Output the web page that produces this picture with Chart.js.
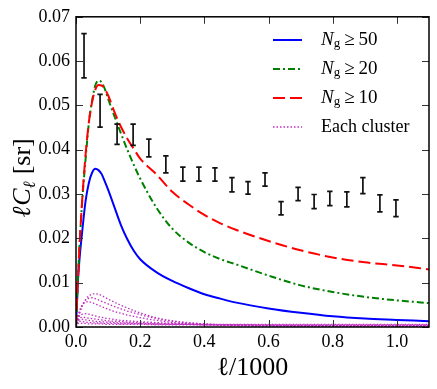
<!DOCTYPE html>
<html><head><meta charset="utf-8">
<script src="https://cdn.jsdelivr.net/npm/chart.js@4/dist/chart.umd.min.js"></script>
<style>html,body{margin:0;padding:0;background:#fff}#wrap{width:437px;height:389px;position:relative}
#probe{position:absolute;left:-1000px;top:0;font-family:'Liberation Serif';}</style>
</head><body><div id="probe">0.07 ℓ/1000 <i>N</i> Each cluster</div><div id="wrap"><canvas id="c" width="437" height="389"></canvas></div>
<script>
// multipole grid (ℓ/1000)
const ell = [0, 0.005, 0.01, 0.02, 0.03, 0.04, 0.05, 0.06, 0.07, 0.08, 0.09, 0.1, 0.12, 0.14, 0.16, 0.18, 0.2, 0.25, 0.3, 0.35, 0.4, 0.45, 0.5, 0.6, 0.7, 0.8, 0.9, 1.0, 1.1];
const ng50 = [0, 0.009, 0.0145, 0.022, 0.0285, 0.0325, 0.0348, 0.0357, 0.0354, 0.0345, 0.0328, 0.031, 0.027, 0.023, 0.0198, 0.0172, 0.0153, 0.0124, 0.0104, 0.0088, 0.0074, 0.0064, 0.0055, 0.0042, 0.0032, 0.0024, 0.0019, 0.0016, 0.0013];
const ng20 = [0, 0.009, 0.017, 0.029, 0.038, 0.046, 0.051, 0.0545, 0.0556, 0.0552, 0.0537, 0.0515, 0.0475, 0.0437, 0.0400, 0.0366, 0.0335, 0.0270, 0.0222, 0.0191, 0.0169, 0.0153, 0.0141, 0.0116, 0.0094, 0.0079, 0.0068, 0.006, 0.0054];
const ng10 = [0, 0.009, 0.017, 0.0295, 0.039, 0.0462, 0.0507, 0.0535, 0.0546, 0.0545, 0.0537, 0.0523, 0.0485, 0.0452, 0.0425, 0.0402, 0.0380, 0.0345, 0.0305, 0.0277, 0.0253, 0.0234, 0.0219, 0.0194, 0.0173, 0.0157, 0.0146, 0.0139, 0.013];
const cluster1 = [0, 0.0015, 0.0028, 0.0048, 0.0062, 0.0070, 0.0074, 0.0075, 0.0074, 0.0071, 0.0067, 0.0063, 0.0056, 0.0049, 0.0043, 0.0037, 0.0032, 0.0021, 0.0014, 0.0010, 0.0007, 0.0005, 0.0004, 0.0003, 0.0002, 0.0002, 0.0001, 0.0001, 0.0001];
const cluster2 = [0, 0.0016, 0.0030, 0.0050, 0.0061, 0.0065, 0.0066, 0.0064, 0.0061, 0.0058, 0.0055, 0.0052, 0.0046, 0.0041, 0.0036, 0.0032, 0.0028, 0.0019, 0.0013, 0.0009, 0.0007, 0.0005, 0.0004, 0.0003, 0.0002, 0.0002, 0.0001, 0.0001, 0.0001];
const cluster3 = [0, 0.0020, 0.0035, 0.0050, 0.0056, 0.0057, 0.0055, 0.0052, 0.0049, 0.0046, 0.0043, 0.0040, 0.0035, 0.0031, 0.0027, 0.0024, 0.0021, 0.0015, 0.0010, 0.0007, 0.0005, 0.0004, 0.0003, 0.0002, 0.0002, 0.0001, 0.0001, 0.0001, 0.0001];
const cluster4 = [0, 0.0015, 0.0024, 0.0029, 0.0030, 0.0029, 0.0027, 0.0025, 0.0023, 0.0022, 0.0020, 0.0019, 0.0017, 0.0015, 0.0014, 0.0013, 0.0012, 0.0010, 0.0008, 0.0007, 0.0006, 0.0005, 0.0004, 0.0003, 0.0003, 0.0002, 0.0002, 0.0002, 0.0002];
const cluster5 = [0, 0.0013, 0.0019, 0.0022, 0.0021, 0.0020, 0.0019, 0.0018, 0.0017, 0.0016, 0.0015, 0.0014, 0.0013, 0.0012, 0.0011, 0.0010, 0.0010, 0.0008, 0.0007, 0.0006, 0.0005, 0.0005, 0.0004, 0.0004, 0.0003, 0.0003, 0.0003, 0.0003, 0.0003];
const cluster6 = [0, 0.0012, 0.0016, 0.0017, 0.0016, 0.0015, 0.0014, 0.0013, 0.0012, 0.0012, 0.0011, 0.0011, 0.0010, 0.0009, 0.0009, 0.0008, 0.0008, 0.0007, 0.0006, 0.0006, 0.0005, 0.0005, 0.0005, 0.0004, 0.0004, 0.0004, 0.0004, 0.0004, 0.0004];
const cluster7 = [0, 0.0010, 0.0013, 0.0012, 0.0011, 0.0010, 0.0010, 0.0009, 0.0009, 0.0009, 0.0008, 0.0008, 0.0008, 0.0007, 0.0007, 0.0007, 0.0007, 0.0006, 0.0006, 0.0006, 0.0006, 0.0006, 0.0006, 0.0006, 0.0006, 0.0006, 0.0006, 0.0006, 0.0006];
const cluster8 = [0, 0.0007, 0.0009, 0.0008, 0.0008, 0.0007, 0.0007, 0.0007, 0.0007, 0.0007, 0.0006, 0.0006, 0.0006, 0.0006, 0.0006, 0.0006, 0.0006, 0.0005, 0.0005, 0.0005, 0.0005, 0.0005, 0.0005, 0.0005, 0.0005, 0.0005, 0.0005, 0.0005, 0.0005];
// measured points with errors
const errEll = [0.025, 0.075, 0.128, 0.178, 0.227, 0.280, 0.333, 0.383, 0.433, 0.486, 0.536, 0.589, 0.639, 0.692, 0.742, 0.791, 0.844, 0.894, 0.947, 0.997];
const errVal = [0.0612, 0.0488, 0.0435, 0.0434, 0.0404, 0.0367, 0.0345, 0.0345, 0.0344, 0.0321, 0.0314, 0.0333, 0.0268, 0.0300, 0.0283, 0.0290, 0.0288, 0.0319, 0.0279, 0.0268];
const errSig = [0.0050, 0.0037, 0.0023, 0.0024, 0.0020, 0.0019, 0.0016, 0.0016, 0.0015, 0.0016, 0.0014, 0.0015, 0.0015, 0.0015, 0.0016, 0.0016, 0.0017, 0.0018, 0.0019, 0.0019];
const xTicks = [0, 0.2, 0.4, 0.6, 0.8, 1.0];
const yTicks = [0, 0.01, 0.02, 0.03, 0.04, 0.05, 0.06, 0.07];
const seriesLabels = ['N_g ≥ 50', 'N_g ≥ 20', 'N_g ≥ 10', 'Each cluster'];

const SERIF = "'Liberation Serif', 'Times New Roman', 'DejaVu Serif', serif";
Chart.defaults.font.family = SERIF;
Chart.defaults.color = '#000';

const mk = arr => ell.map((v, i) => ({x: v, y: arr[i]}));
const clusters = [cluster1, cluster2, cluster3, cluster4, cluster5, cluster6, cluster7, cluster8];
const magenta = '#c030c0';

function drawRich(ctx, segs, x, y) {
  let cx = x;
  segs.forEach(s => { ctx.font = s.font; ctx.fillText(s.t, cx, y + (s.dy || 0)); cx += ctx.measureText(s.t).width + (s.sp || 0); });
  return cx;
}
function richWidth(ctx, segs) {
  let w = 0;
  segs.forEach(s => { ctx.font = s.font; w += ctx.measureText(s.t).width + (s.sp || 0); });
  return w;
}
function labelSegs(lbl) {
  const m = lbl.match(/^N_g ≥ (.*)$/);
  if (!m) return [{t: lbl, font: `18px ${SERIF}`}];
  return [
    {t: 'N', font: `italic 19px ${SERIF}`},
    {t: 'g', font: `13px ${SERIF}`, dy: 4, sp: 4},
    {t: '≥', font: `19px ${SERIF}`, sp: 4},
    {t: m[1], font: `19px ${SERIF}`}
  ];
}

const decor = {
  id: 'decor',
  afterDatasetsDraw(chart) {
    const {ctx, chartArea: a, scales: {x, y}} = chart;
    ctx.save();
    // error bars
    ctx.strokeStyle = '#111'; ctx.lineWidth = 1.7;
    errEll.forEach((e, i) => {
      const px = x.getPixelForValue(e);
      const p1 = y.getPixelForValue(errVal[i] - errSig[i]);
      const p2 = y.getPixelForValue(errVal[i] + errSig[i]);
      ctx.beginPath();
      ctx.moveTo(px, p1); ctx.lineTo(px, p2);
      ctx.moveTo(px - 2.7, p1); ctx.lineTo(px + 2.7, p1);
      ctx.moveTo(px - 2.7, p2); ctx.lineTo(px + 2.7, p2);
      ctx.stroke();
    });
    // inward ticks
    ctx.strokeStyle = '#333'; ctx.lineWidth = 1;
    xTicks.forEach(v => {
      const px = Math.round(x.getPixelForValue(v)) + 0.5;
      ctx.beginPath(); ctx.moveTo(px, a.bottom); ctx.lineTo(px, a.bottom - 7);
      ctx.moveTo(px, a.top); ctx.lineTo(px, a.top + 7); ctx.stroke();
    });
    yTicks.forEach(v => {
      const py = Math.round(y.getPixelForValue(v)) + 0.5;
      ctx.beginPath(); ctx.moveTo(a.left, py); ctx.lineTo(a.left + 7, py);
      ctx.moveTo(a.right, py); ctx.lineTo(a.right - 7, py); ctx.stroke();
    });
    // frame
    ctx.strokeStyle = '#000'; ctx.lineWidth = 1.5;
    ctx.strokeRect(a.left, a.top, a.right - a.left, a.bottom - a.top);
    // legend
    const ds = chart.data.datasets;
    const rows = [40, 69, 98, 127];
    ctx.textBaseline = 'middle'; ctx.textAlign = 'left'; ctx.fillStyle = '#000';
    for (let i = 0; i < 4; i++) {
      const d = ds[i];
      ctx.save();
      ctx.strokeStyle = d.borderColor; ctx.lineWidth = d.borderWidth;
      ctx.setLineDash(d.borderDash || []);
      ctx.beginPath(); ctx.moveTo(273, rows[i]); ctx.lineTo(302, rows[i]); ctx.stroke();
      ctx.restore();
      drawRich(ctx, labelSegs(seriesLabels[i]), 321, rows[i]);
    }
    // y title
    const ySegs = [
      {t: 'ℓ', font: `italic 26px ${SERIF}`, sp: 1},
      {t: 'C', font: `italic 26px ${SERIF}`},
      {t: 'ℓ', font: `italic 17px ${SERIF}`, dy: 5, sp: 7},
      {t: '[sr]', font: `26px ${SERIF}`}
    ];
    ctx.save();
    ctx.translate(30, (a.top + a.bottom) / 2 + 6);
    ctx.rotate(-Math.PI / 2);
    ctx.textBaseline = 'alphabetic';
    const w = richWidth(ctx, ySegs);
    drawRich(ctx, ySegs, -w / 2, 0);
    ctx.restore();
    ctx.restore();
  }
};

function build() {
new Chart(document.getElementById('c'), {
  type: 'line',
  data: {
    datasets: [
      {label: seriesLabels[0], data: mk(ng50), borderColor: '#0000ff', borderWidth: 2, order: 3},
      {label: seriesLabels[1], data: mk(ng20), borderColor: '#008000', borderWidth: 2, borderDash: [7, 3, 2, 3], order: 2},
      {label: seriesLabels[2], data: mk(ng10), borderColor: '#ff0000', borderWidth: 2, borderDash: [12, 5], order: 1},
      ...clusters.map((c, i) => ({label: i === 0 ? seriesLabels[3] : '', data: mk(c), borderColor: magenta, borderWidth: 1.3, borderDash: [1.5, 2], order: 4}))
    ]
  },
  options: {
    responsive: false, animation: false, devicePixelRatio: 1,
    layout: {padding: {left: 0, right: 8, top: 15, bottom: 0}},
    elements: {point: {radius: 0}, line: {cubicInterpolationMode: 'monotone', fill: false}},
    plugins: {legend: {display: false}, tooltip: {enabled: false}},
    scales: {
      x: {
        type: 'linear', min: 0, max: 1.1,
        afterBuildTicks: s => { s.ticks = xTicks.map(v => ({value: v})); },
        afterFit: s => { s.height = 62; },
        grid: {display: false, drawTicks: false},
        border: {display: false},
        ticks: {padding: 4, font: {size: 18}, color: '#000', callback: v => v.toFixed(1)},
        title: {display: true, text: 'ℓ/1000', font: {size: 26}, color: '#000', padding: {top: 0, bottom: 5}}
      },
      y: {
        min: 0, max: 0.07,
        afterBuildTicks: s => { s.ticks = yTicks.map(v => ({value: v})); },
        afterFit: s => { s.width = 76; },
        grid: {display: false, drawTicks: false},
        border: {display: false},
        ticks: {padding: 6, font: {size: 18}, color: '#000', callback: v => v.toFixed(2)}
      }
    }
  },
  plugins: [decor]
});
}
const fontsReady = Promise.all([
  document.fonts.load("18px 'Liberation Serif'"),
  document.fonts.load("italic 18px 'Liberation Serif'")
]).catch(() => {});
fontsReady.then(build, build);
</script></body></html>
